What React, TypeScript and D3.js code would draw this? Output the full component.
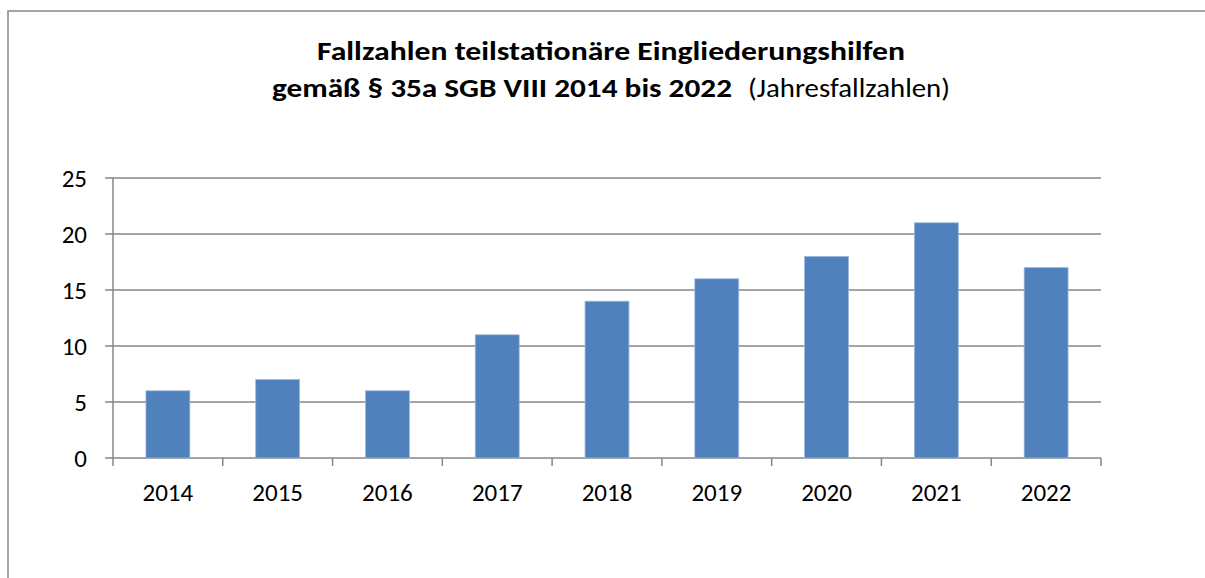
import React from 'react';
import * as d3 from 'd3';

const years = ['2014', '2015', '2016', '2017', '2018', '2019', '2020', '2021', '2022'];
const cases = [6, 7, 6, 11, 14, 16, 18, 21, 17];
const yTicks = [0, 5, 10, 15, 20, 25];
const titleLine1 = 'Fallzahlen teilstationäre Eingliederungshilfen';
const titleLine2Bold = 'gemäß § 35a SGB VIII 2014 bis 2022';
const titleLine2Normal = '(Jahresfallzahlen)';

const W = 1205;
const H = 578;
const FONT = 'Carlito, Lato, "Open Sans", sans-serif';
const GRID = '#868686';

const App = () => {
  const plot = { left: 113, right: 1101, top: 178, bottom: 458 };

  const x = d3.scaleBand().domain(years).range([plot.left, plot.right]).paddingInner(0.6).paddingOuter(0.3);
  const xEdge = d3.scaleBand().domain(years).range([plot.left, plot.right]);
  const y = d3.scaleLinear().domain([0, 25]).range([plot.bottom, plot.top]);

  return (
    <div style={{ position: 'fixed', left: 0, top: 0, width: W, height: H, background: '#fff' }}>
      <svg width={W} height={H} style={{ display: 'block' }} fontFamily={FONT}>
        {/* chart frame, runs off the page right and bottom */}
        <rect x={8} y={11} width={W + 20} height={H + 20} fill="#fff" stroke={GRID} strokeWidth={1.5} />

        {/* title, stretched to the widths */}
        <text x={317} y={60} fontSize={27} fontWeight="bold" fill="#000" textLength={588} lengthAdjust="spacingAndGlyphs">
          {titleLine1}
        </text>
        <text x={272} y={97} fontSize={27} fontWeight="bold" fill="#000" textLength={460} lengthAdjust="spacingAndGlyphs">
          {titleLine2Bold}
        </text>
        <text x={748} y={97} fontSize={27} fill="#000" textLength={202} lengthAdjust="spacingAndGlyphs">
          {titleLine2Normal}
        </text>

        {/* gridlines + y ticks */}
        {yTicks.map((t) => (
          <g key={t}>
            <line x1={plot.left - 8} x2={plot.right} y1={y(t)} y2={y(t)} stroke={GRID} strokeWidth={1.5} />
            <text x={87} y={y(t)} dy="0.36em" textAnchor="end" fontSize={25} fill="#000">
              {t}
            </text>
          </g>
        ))}
        <line x1={plot.left} x2={plot.left} y1={plot.top} y2={plot.bottom + 8} stroke={GRID} strokeWidth={1.5} />

        {/* bars */}
        {years.map((yr, i) => (
          <rect
            key={yr}
            x={x(yr)}
            y={y(cases[i])}
            width={x.bandwidth()}
            height={plot.bottom - y(cases[i])}
            fill="#4F81BD"
            stroke="#9DB8DD"
            strokeWidth={0.8}
          />
        ))}

        {/* x axis ticks at category edges */}
        {years.map((yr) => (
          <line
            key={'t' + yr}
            x1={(xEdge(yr) as number) + xEdge.bandwidth()}
            x2={(xEdge(yr) as number) + xEdge.bandwidth()}
            y1={plot.bottom}
            y2={plot.bottom + 8}
            stroke={GRID}
            strokeWidth={1.5}
          />
        ))}
        {years.map((yr) => (
          <text
            key={'l' + yr}
            x={(xEdge(yr) as number) + xEdge.bandwidth() / 2}
            y={501}
            textAnchor="middle"
            fontSize={25}
            fill="#000"
          >
            {yr}
          </text>
        ))}
      </svg>
    </div>
  );
};

export default App;
